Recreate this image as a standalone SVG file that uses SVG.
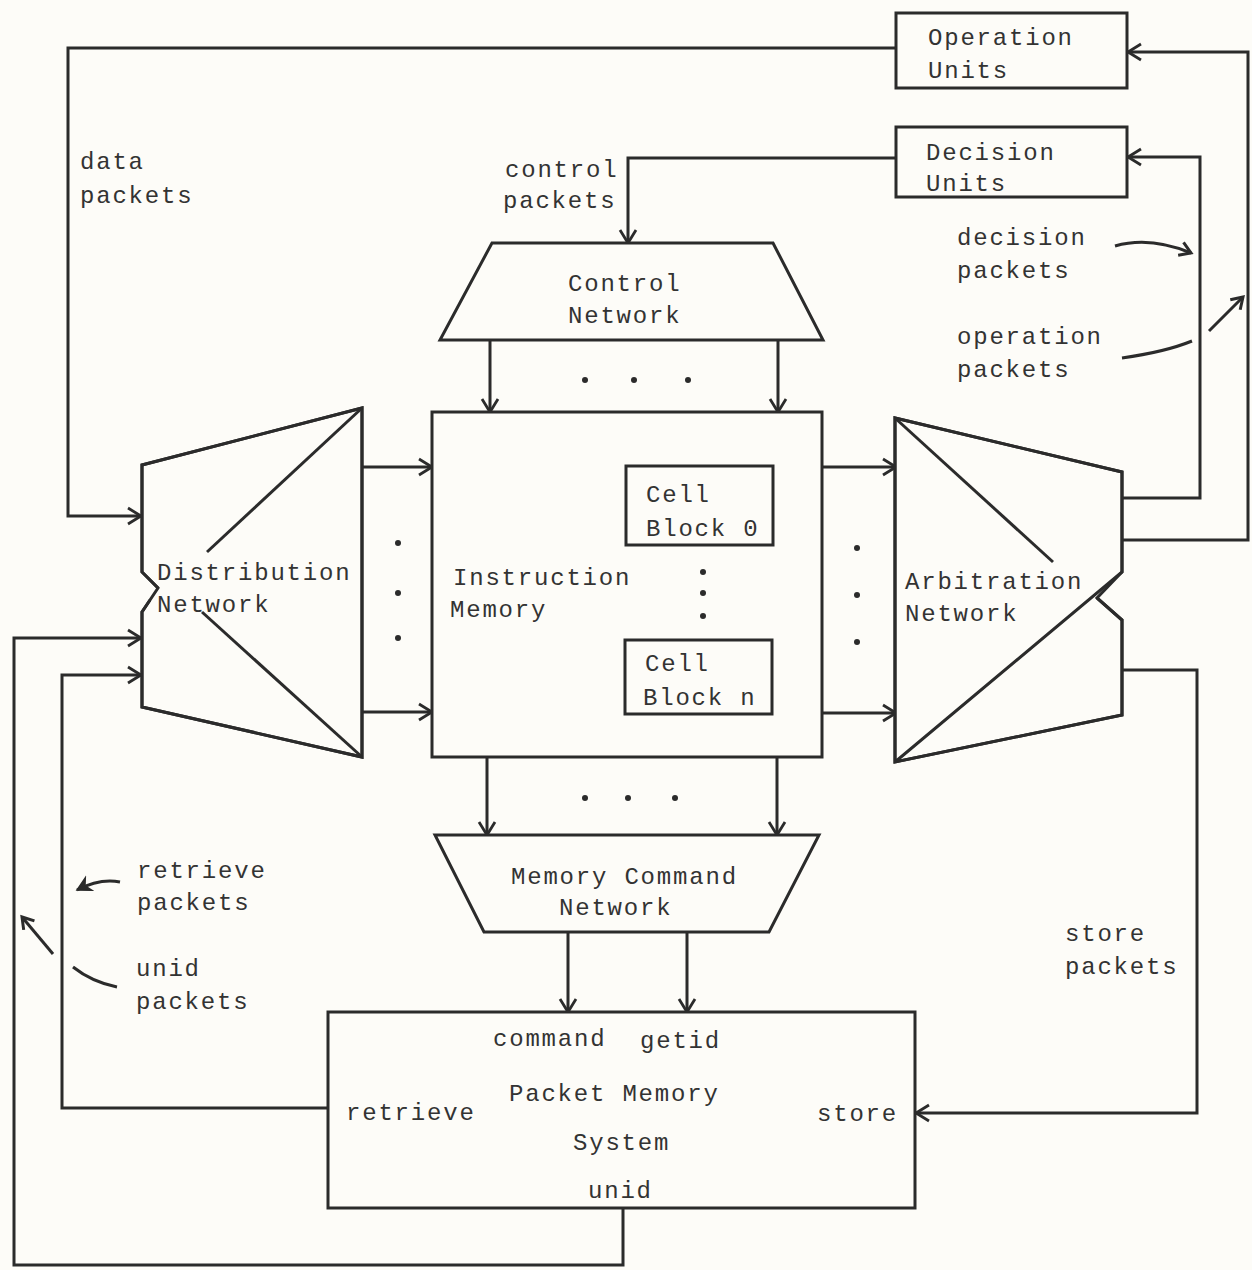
<svg xmlns="http://www.w3.org/2000/svg" width="1252" height="1270" viewBox="0 0 1252 1270">
<defs>
<marker id="arr" markerUnits="userSpaceOnUse" markerWidth="20" markerHeight="20" refX="16" refY="10" orient="auto">
<path d="M3,2 L16,10 L3,18" fill="none" stroke="#2b2b2b" stroke-width="2.8"/>
</marker>
<marker id="sarr" markerUnits="userSpaceOnUse" markerWidth="20" markerHeight="20" refX="15" refY="10" orient="auto">
<path d="M4,3 L15,10 L4,17" fill="none" stroke="#2b2b2b" stroke-width="3"/>
</marker>
<marker id="farr" markerUnits="userSpaceOnUse" markerWidth="20" markerHeight="20" refX="15" refY="10" orient="auto">
<path d="M2,3 L15,10 L2,17 L6,10 Z" fill="#2b2b2b" stroke="#2b2b2b" stroke-width="1.5"/>
</marker>
</defs>
<style>
.s{fill:none;stroke:#2b2b2b;stroke-width:3;stroke-linejoin:miter}
.n{fill:#fdfcf8;stroke:#2b2b2b;stroke-width:3}
.c{fill:none;stroke:#2b2b2b;stroke-width:3}
.a{marker-end:url(#arr)}
.t{font-family:"Liberation Mono","DejaVu Sans Mono",monospace;font-size:24px;letter-spacing:1.8px;fill:#333}
.dot{fill:#2b2b2b}
</style>
<rect x="0" y="0" width="1252" height="1270" fill="#fdfcf8"/>

<g id="connectors">
<!-- data packets: operation units -> distribution -->
<path class="c a" d="M896,48 L68,48 L68,516 L141,516"/>
<!-- control packets: decision units -> control network -->
<path class="c a" d="M896,158 L628,158 L628,243"/>
<!-- arbitration -> decision units -->
<path class="c a" d="M1122,498 L1200,498 L1200,157 L1128,157"/>
<!-- arbitration -> operation units -->
<path class="c a" d="M1122,540 L1248,540 L1248,52 L1128,52"/>
<!-- control network -> instruction memory -->
<path class="c a" d="M490,340 L490,412"/>
<path class="c a" d="M778,340 L778,412"/>
<!-- distribution -> instruction memory -->
<path class="c a" d="M362,467 L432,467"/>
<path class="c a" d="M362,712 L432,712"/>
<!-- instruction memory -> arbitration -->
<path class="c a" d="M822,467 L896,467"/>
<path class="c a" d="M822,713 L896,713"/>
<!-- instruction memory -> memory command network -->
<path class="c a" d="M487,757 L487,835"/>
<path class="c a" d="M777,757 L777,835"/>
<!-- memory command network -> packet memory -->
<path class="c a" d="M568,932 L568,1012"/>
<path class="c a" d="M687,932 L687,1012"/>
<!-- store packets -->
<path class="c a" d="M1122,670 L1197,670 L1197,1113 L916,1113"/>
<!-- retrieve packets -->
<path class="c a" d="M328,1108 L62,1108 L62,675 L141,675"/>
<!-- unid packets -->
<path class="c a" d="M623,1208 L623,1265 L14,1265 L14,638 L141,638"/>
<!-- label arrows -->
<path fill="none" stroke="#2b2b2b" stroke-width="3" marker-end="url(#sarr)" d="M1115,246 Q1150,236 1191,253"/>
<path fill="none" stroke="#2b2b2b" stroke-width="3" d="M1122,358 Q1165,352 1192,341"/>
<path fill="none" stroke="#2b2b2b" stroke-width="3" marker-end="url(#sarr)" d="M1209,331 L1243,297"/>
<path fill="none" stroke="#2b2b2b" stroke-width="3" marker-end="url(#farr)" d="M120,882 Q100,878 77,890"/>
<path fill="none" stroke="#2b2b2b" stroke-width="3" d="M117,987 Q92,982 73,967"/>
<path fill="none" stroke="#2b2b2b" stroke-width="3" marker-end="url(#sarr)" d="M53,954 L22,917"/>
<!-- ellipsis dots -->
<circle class="dot" cx="585" cy="380" r="3"/>
<circle class="dot" cx="634" cy="380" r="3"/>
<circle class="dot" cx="688" cy="380" r="3"/>
<circle class="dot" cx="398" cy="543" r="3"/>
<circle class="dot" cx="398" cy="593" r="3"/>
<circle class="dot" cx="398" cy="638" r="3"/>
<circle class="dot" cx="857" cy="548" r="3"/>
<circle class="dot" cx="857" cy="595" r="3"/>
<circle class="dot" cx="857" cy="642" r="3"/>
<circle class="dot" cx="585" cy="798" r="3"/>
<circle class="dot" cx="628" cy="798" r="3"/>
<circle class="dot" cx="675" cy="798" r="3"/>
</g>

<g id="label-data-packets">
<text class="t" x="80" y="169">data</text>
<text class="t" x="80" y="203">packets</text>
</g>
<g id="label-control-packets">
<text class="t" x="505" y="177">control</text>
<text class="t" x="503" y="208">packets</text>
</g>
<g id="label-decision-packets">
<text class="t" x="957" y="245">decision</text>
<text class="t" x="957" y="278">packets</text>
</g>
<g id="label-operation-packets">
<text class="t" x="957" y="344">operation</text>
<text class="t" x="957" y="377">packets</text>
</g>
<g id="label-retrieve-packets">
<text class="t" x="137" y="878">retrieve</text>
<text class="t" x="137" y="910">packets</text>
</g>
<g id="label-unid-packets">
<text class="t" x="136" y="976">unid</text>
<text class="t" x="136" y="1009">packets</text>
</g>
<g id="label-store-packets">
<text class="t" x="1065" y="941">store</text>
<text class="t" x="1065" y="974">packets</text>
</g>

<g id="operation-units">
<rect class="n" x="896" y="13" width="231" height="75"/>
<text class="t" x="928" y="45">Operation</text>
<text class="t" x="928" y="78">Units</text>
</g>
<g id="decision-units">
<rect class="n" x="896" y="127" width="231" height="70"/>
<text class="t" x="926" y="160">Decision</text>
<text class="t" x="926" y="191">Units</text>
</g>
<g id="control-network">
<path class="n" d="M492,243 L773,243 L823,340 L440,340 Z"/>
<text class="t" x="568" y="291">Control</text>
<text class="t" x="568" y="323">Network</text>
</g>
<g id="distribution-network">
<path class="n" d="M362,408 L362,757 L142,707 L142,612 L150,600 L158,588 L142,572 L142,465 Z" stroke="none"/>
<path class="s" d="M158,588 L142,572 L142,465 L362,408 L362,757 L142,707 L142,612 L150,600"/>
<path class="s" d="M362,408 L207,552"/>
<path class="s" d="M202,612 L362,757"/>
<text class="t" x="157" y="580">Distribution</text>
<text class="t" x="157" y="612">Network</text>
</g>
<g id="instruction-memory">
<rect class="n" x="432" y="412" width="390" height="345"/>
<text class="t" x="453" y="585">Instruction</text>
<text class="t" x="450" y="617">Memory</text>
</g>
<g id="cell-block-0">
<rect class="n" x="626" y="466" width="147" height="79"/>
<text class="t" x="646" y="502">Cell</text>
<text class="t" x="646" y="536">Block 0</text>
</g>
<g id="cell-block-dots">
<circle class="dot" cx="703" cy="572" r="3"/>
<circle class="dot" cx="703" cy="593" r="3"/>
<circle class="dot" cx="703" cy="616" r="3"/>
</g>
<g id="cell-block-n">
<rect class="n" x="625" y="640" width="147" height="74"/>
<text class="t" x="645" y="671">Cell</text>
<text class="t" x="643" y="705">Block n</text>
</g>
<g id="arbitration-network">
<path class="n" d="M895,418 L1122,472 L1122,572 L1097,598 L1122,620 L1122,715 L895,762 Z" stroke="none"/>
<path class="s" d="M1097,598 L1122,620 L1122,715 L895,762 L895,418 L1122,472 L1122,572 L895,762"/>
<path class="s" d="M895,418 L1053,562"/>
<text class="t" x="905" y="589">Arbitration</text>
<text class="t" x="905" y="621">Network</text>
</g>
<g id="memory-command-network">
<path class="n" d="M435,835 L819,835 L769,932 L484,932 Z"/>
<text class="t" x="511" y="884">Memory Command</text>
<text class="t" x="559" y="915">Network</text>
</g>
<g id="packet-memory-system">
<rect class="n" x="328" y="1012" width="587" height="196"/>
<text class="t" x="493" y="1046">command</text>
<text class="t" x="640" y="1048">getid</text>
<text class="t" x="509" y="1101">Packet Memory</text>
<text class="t" x="573" y="1150">System</text>
<text class="t" x="588" y="1198">unid</text>
<text class="t" x="346" y="1120">retrieve</text>
<text class="t" x="817" y="1121">store</text>
</g>
</svg>
